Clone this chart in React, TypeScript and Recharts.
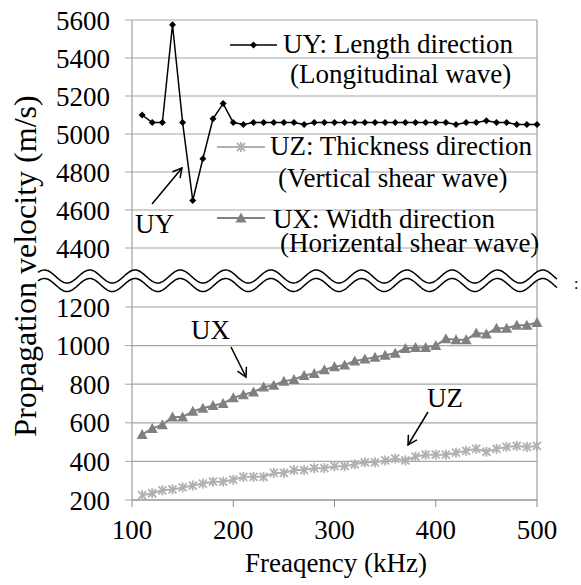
import React from "react";
import { LineChart, Line, XAxis, YAxis, CartesianGrid, Legend, ReferenceLine } from "recharts";

const freqs = [
  110, 120, 130, 140, 150, 160, 170, 180, 190, 200,
  210, 220, 230, 240, 250, 260, 270, 280, 290, 300,
  310, 320, 330, 340, 350, 360, 370, 380, 390, 400,
  410, 420, 430, 440, 450, 460, 470, 480, 490, 500,
];
const uyValues = [
  5100, 5060, 5060, 5575, 5060, 4650, 4870, 5080, 5160, 5060,
  5050, 5060, 5060, 5060, 5060, 5060, 5050, 5060, 5060, 5060,
  5060, 5060, 5060, 5060, 5060, 5060, 5060, 5060, 5060, 5060,
  5060, 5050, 5060, 5060, 5070, 5060, 5060, 5050, 5050, 5050,
];
const uzValues = [
  225, 235, 250, 255, 265, 275, 285, 295, 295, 305,
  320, 320, 320, 340, 340, 355, 355, 365, 365, 375,
  375, 385, 395, 395, 405, 415, 405, 425, 435, 435,
  435, 445, 455, 465, 450, 465, 475, 480, 475, 480,
];
const uxValues = [
  540, 570, 590, 630, 630, 660, 675, 690, 700, 730,
  745, 760, 785, 795, 815, 825, 845, 855, 875, 890,
  900, 920, 930, 940, 950, 960, 985, 990, 990, 1000,
  1035, 1030, 1030, 1065, 1060, 1090, 1090, 1105, 1105, 1120,
];
const xTicks = [100, 200, 300, 400, 500];
const topTicks = [4400, 4600, 4800, 5000, 5200, 5400, 5600];
const bottomTicks = [200, 400, 600, 800, 1000, 1200];
const legendLabels = [
  ["UY: Length direction", "(Longitudinal wave)"],
  ["UZ: Thickness direction", "(Vertical shear wave)"],
  ["UX: Width direction", "(Horizental shear wave)"],
];

const FONT = "Liberation Serif";
const GRID = "#a6a6a6";
const AXIS = "#8c8c8c";
const UY_COLOR = "#000000";
const UZ_COLOR = "#b0b0b0";
const UX_COLOR = "#808080";

const topData = freqs.map((f, i) => ({ f, uy: uyValues[i] }));
const bottomData = freqs.map((f, i) => ({ f, uz: uzValues[i], ux: uxValues[i] }));

const tickStyle = { fontSize: 27, fill: "#000", style: { fontFamily: FONT } };
const textStyle = { fontFamily: FONT };

const Diamond = ({ cx, cy }: { cx: number; cy: number }) => (
  <polygon points={`${cx},${cy - 3.5} ${cx + 3.5},${cy} ${cx},${cy + 3.5} ${cx - 3.5},${cy}`} fill={UY_COLOR} />
);

const Star = ({ cx, cy }: { cx: number; cy: number }) => (
  <g stroke={UZ_COLOR} strokeWidth={1.8}>
    <line x1={cx - 4} y1={cy - 4} x2={cx + 4} y2={cy + 4} />
    <line x1={cx - 4} y1={cy + 4} x2={cx + 4} y2={cy - 4} />
    <line x1={cx} y1={cy - 5} x2={cx} y2={cy + 5} />
  </g>
);

const Triangle = ({ cx, cy }: { cx: number; cy: number }) => (
  <polygon points={`${cx},${cy - 5.5} ${cx + 5.5},${cy + 4.5} ${cx - 5.5},${cy + 4.5}`} fill={UX_COLOR} />
);

const dotOf = (M: any) => (p: any) =>
  p.cx == null ? <g key={p.index} /> : <M key={p.index} cx={p.cx} cy={p.cy} />;

// legend entries sit inside the upper panel, text left-aligned after the sample line
const LegendBox = () => {
  const rows = [
    { color: UY_COLOR, M: Diamond, x1: 230, x2: 277, y: 45, tx: [283, 290], b: [53, 83], w: 1.5 },
    { color: UZ_COLOR, M: Star, x1: 217, x2: 265, y: 147, tx: [270, 278], b: [155, 187], w: 2 },
    { color: UX_COLOR, M: Triangle, x1: 217, x2: 265, y: 218, tx: [273, 280], b: [228, 252], w: 2 },
  ];
  return (
    <svg width={581} height={260} style={{ position: "absolute", left: 0, top: 0 }}>
      {rows.map((r, i) => (
        <g key={i}>
          <line x1={r.x1} x2={r.x2} y1={r.y} y2={r.y} stroke={r.color} strokeWidth={r.w} />
          <r.M cx={(r.x1 + r.x2) / 2} cy={r.y} />
          <text x={r.tx[0]} y={r.b[0]} fontSize={27} style={textStyle}>
            {legendLabels[i][0]}
          </text>
          <text x={r.tx[1]} y={r.b[1]} fontSize={27} style={textStyle}>
            {legendLabels[i][1]}
          </text>
        </g>
      ))}
    </svg>
  );
};

const wave = (y0: number, from: number, to: number) => {
  const pts: string[] = [];
  for (let x = from; x <= to; x += 1) {
    const y = y0 - 6.5 * Math.cos((2 * Math.PI * (x - 135)) / 45.3);
    pts.push(`${x},${y.toFixed(2)}`);
  }
  return pts;
};

const Overlay = () => {
  const top = wave(276.5, 38, 557);
  const bot = wave(285, 38, 557);
  const band = "M" + top.join(" L") + " L" + bot.slice().reverse().join(" L") + " Z";
  return (
    <svg width={581} height={585} style={{ position: "absolute", left: 0, top: 0, pointerEvents: "none" }}>
      <defs>
        <marker id="ah" markerWidth={12} markerHeight={12} refX={10} refY={6} orient="auto" markerUnits="userSpaceOnUse">
          <path d="M1,1 L10,6 L1,11" fill="none" stroke="#000" strokeWidth={1.5} />
        </marker>
      </defs>
      <line x1={132} x2={132} y1={248} y2={307} stroke={AXIS} />
      <line x1={537} x2={537} y1={248} y2={307} stroke={AXIS} />
      <path d={band} fill="#fff" />
      <path d={"M" + top.join(" L")} fill="none" stroke="#000" strokeWidth={1.5} />
      <path d={"M" + bot.join(" L")} fill="none" stroke="#000" strokeWidth={1.5} />
      <text x={574} y={289} fontSize={16} style={textStyle}>:</text>
      <text transform="translate(36,266) rotate(-90)" textAnchor="middle" fontSize={32} style={textStyle}>
        Propagation velocity (m/s)
      </text>
      <text x={336} y={572} textAnchor="middle" fontSize={27} style={textStyle}>Freaqency (kHz)</text>
      <text x={135} y={233} fontSize={27} style={textStyle}>UY</text>
      <text x={191} y={339} fontSize={27} style={textStyle}>UX</text>
      <text x={427} y={407} fontSize={27} style={textStyle}>UZ</text>
      <line x1={152} y1={204} x2={182} y2={168} stroke="#000" strokeWidth={1.5} markerEnd="url(#ah)" />
      <line x1={231} y1={347} x2={246} y2={377} stroke="#000" strokeWidth={1.5} markerEnd="url(#ah)" />
      <line x1={428} y1={412} x2={408} y2={445} stroke="#000" strokeWidth={1.5} markerEnd="url(#ah)" />
    </svg>
  );
};

const App = () => {
  return (
    <div style={{ position: "absolute", left: 0, top: 0, width: 581, height: 585, background: "#fff", fontFamily: FONT }}>
      <div style={{ position: "absolute", left: 0, top: 0 }}>
        <LineChart width={581} height={260} data={topData} margin={{ top: 20, right: 44, bottom: 12, left: 0 }}>
          <CartesianGrid vertical={false} stroke={GRID} strokeWidth={1.2} />
          <XAxis dataKey="f" type="number" domain={[100, 500]} ticks={xTicks} hide />
          <YAxis
            width={132}
            type="number"
            domain={[4400, 5600]}
            ticks={topTicks}
            interval={0}
            tick={tickStyle}
            tickSize={7}
            tickMargin={15}
            stroke={AXIS}
            tickLine={{ stroke: GRID }}
          />
          <ReferenceLine x={500} stroke={AXIS} />
          <Legend
            layout="vertical"
            align="center"
            verticalAlign="middle"
            content={() => <LegendBox />}
            wrapperStyle={{ position: "absolute", left: 0, top: 0, width: 581, height: 260 }}
          />
          <Line
            dataKey="uy"
            type="linear"
            stroke={UY_COLOR}
            strokeWidth={1.5}
            dot={dotOf(Diamond)}
            activeDot={false}
            isAnimationActive={false}
          />
        </LineChart>
      </div>
      <div style={{ position: "absolute", left: 0, top: 0 }}>
        <LineChart width={581} height={585} data={bottomData} margin={{ top: 307, right: 44, bottom: 0, left: 0 }}>
          <CartesianGrid vertical={false} stroke={GRID} strokeWidth={1.2} />
          <XAxis
            dataKey="f"
            type="number"
            domain={[100, 500]}
            ticks={xTicks}
            interval={0}
            height={85}
            tick={tickStyle}
            tickSize={7}
            tickMargin={13}
            stroke={AXIS}
          />
          <YAxis
            width={132}
            type="number"
            domain={[200, 1200]}
            ticks={bottomTicks}
            interval={0}
            tick={tickStyle}
            tickSize={7}
            tickMargin={15}
            stroke={AXIS}
            tickLine={{ stroke: GRID }}
          />
          <ReferenceLine x={500} stroke={AXIS} />
          <Line
            dataKey="uz"
            type="linear"
            stroke={UZ_COLOR}
            strokeWidth={2}
            dot={dotOf(Star)}
            activeDot={false}
            isAnimationActive={false}
          />
          <Line
            dataKey="ux"
            type="linear"
            stroke={UX_COLOR}
            strokeWidth={2}
            dot={dotOf(Triangle)}
            activeDot={false}
            isAnimationActive={false}
          />
        </LineChart>
      </div>
      <Overlay />
    </div>
  );
};

export default App;
